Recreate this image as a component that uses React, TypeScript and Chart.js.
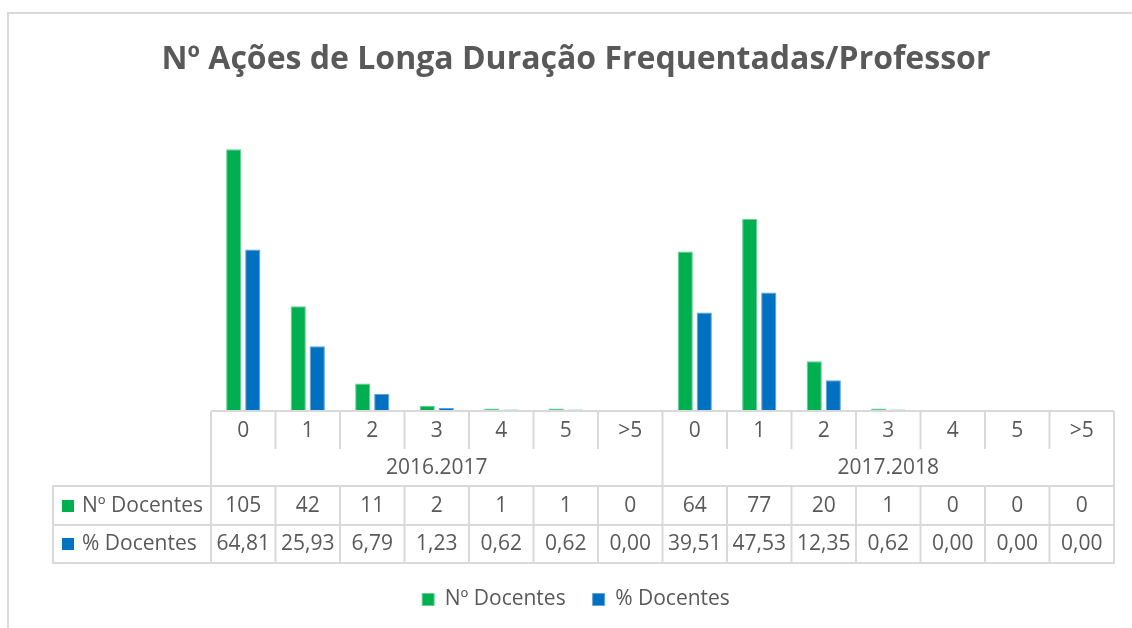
import React, { useEffect, useRef } from 'react';
import { Chart, registerables } from 'chart.js';

Chart.register(...registerables);

const categories = ['0', '1', '2', '3', '4', '5', '>5', '0', '1', '2', '3', '4', '5', '>5'];
const groups = ['2016.2017', '2017.2018'];
const groupSizes = [7, 7];
const nDocentes = [105, 42, 11, 2, 1, 1, 0, 64, 77, 20, 1, 0, 0, 0];
const pctDocentes = [64.81, 25.93, 6.79, 1.23, 0.62, 0.62, 0.0, 39.51, 47.53, 12.35, 0.62, 0.0, 0.0, 0.0];
const seriesNames = ['Nº Docentes', '% Docentes'];
const titleText = 'Nº Ações de Longa Duração Frequentadas/Professor';

const GREEN = '#00B050';
const BLUE = '#0070C0';
const TEXT = '#595959';
const GRID = '#D9D9D9';
const FONT = "'Open Sans', sans-serif";
const TABLE_FONT_SIZE = 21;

const fmtPct = (v: number) => v.toFixed(2).replace('.', ',');

const tablePlugin = {
  id: 'dataTable',
  beforeDraw(chart: any) {
    const ctx = chart.ctx;
    ctx.save();
    ctx.fillStyle = '#ffffff';
    ctx.fillRect(0, 0, chart.width, chart.height);
    ctx.strokeStyle = GRID;
    ctx.lineWidth = 2;
    ctx.beginPath();
    ctx.moveTo(8, chart.height + 5);
    ctx.lineTo(8, 13);
    ctx.lineTo(chart.width + 5, 13);
    ctx.stroke();
    ctx.restore();
  },
  afterDraw(chart: any) {
    const { ctx, chartArea } = chart;
    const xs = chart.scales.x;
    const n = categories.length;
    const left = chartArea.left;
    const right = chartArea.right;
    const w = (right - left) / n;
    const y0 = chartArea.bottom;
    const tableLeft = 53;
    const rowCat = y0 + 38;
    const rowGrp = y0 + 75;
    const row1 = y0 + 114;
    const row2 = y0 + 152;

    ctx.save();
    ctx.strokeStyle = GRID;
    ctx.lineWidth = 2;
    const line = (x1: number, y1: number, x2: number, y2: number) => {
      ctx.beginPath();
      ctx.moveTo(x1, y1);
      ctx.lineTo(x2, y2);
      ctx.stroke();
    };
    line(left, y0, right, y0);
    line(tableLeft - 1, rowGrp, right + 1, rowGrp);
    line(tableLeft - 1, row1, right + 1, row1);
    line(tableLeft - 1, row2, right + 1, row2);
    for (let i = 0; i <= n; i++) {
      const x = left + i * w;
      line(x, y0, x, rowCat);
      line(x, rowGrp, x, row2);
    }
    let acc = 0;
    const bounds = [0];
    groupSizes.forEach((s) => {
      acc += s;
      bounds.push(acc);
    });
    bounds.forEach((b) => {
      const x = left + b * w;
      line(x, rowCat, x, rowGrp);
    });
    line(tableLeft, rowGrp, tableLeft, row2);

    ctx.fillStyle = TEXT;
    ctx.font = `${TABLE_FONT_SIZE}px ${FONT}`;
    ctx.textAlign = 'center';
    ctx.textBaseline = 'middle';
    categories.forEach((c, i) => {
      const cx = xs.getPixelForValue(i);
      ctx.fillText(c, cx, y0 + 20);
      ctx.fillText(String(nDocentes[i]), cx, y0 + 95);
      ctx.fillText(fmtPct(pctDocentes[i]), cx, y0 + 133);
    });
    groups.forEach((g, gi) => {
      const gx = left + ((bounds[gi] + bounds[gi + 1]) / 2) * w;
      ctx.fillText(g, gx, y0 + 57);
    });
    ctx.textAlign = 'left';
    const headers = [
      { name: seriesNames[0], color: GREEN, y: y0 + 95 },
      { name: seriesNames[1], color: BLUE, y: y0 + 133 },
    ];
    headers.forEach((h) => {
      ctx.fillStyle = h.color;
      ctx.fillRect(tableLeft + 9, h.y - 6, 12, 12);
      ctx.fillStyle = TEXT;
      ctx.fillText(h.name, tableLeft + 29, h.y);
    });
    ctx.restore();
  },
};

export default function App() {
  const canvasRef = useRef<HTMLCanvasElement | null>(null);

  useEffect(() => {
    if (!canvasRef.current) return;
    const chart = new Chart(canvasRef.current, {
      type: 'bar',
      data: {
        labels: categories,
        datasets: [
          {
            label: seriesNames[0],
            data: nDocentes,
            backgroundColor: GREEN,
            borderColor: '#66d096',
            borderWidth: 1,
            barPercentage: 0.8,
            categoryPercentage: 0.59,
          },
          {
            label: seriesNames[1],
            data: pctDocentes,
            backgroundColor: BLUE,
            borderColor: '#5fa3d8',
            borderWidth: 1,
            barPercentage: 0.8,
            categoryPercentage: 0.59,
          },
        ],
      },
      options: {
        responsive: false,
        animation: false,
        layout: { padding: { left: 20, right: 0, top: 0, bottom: 8 } },
        scales: {
          x: {
            display: true,
            grid: { display: false },
            border: { display: false },
            ticks: { display: false },
            afterFit: (s: any) => {
              s.height = 151;
            },
          },
          y: {
            display: true,
            min: 0,
            max: 125,
            grid: { display: false },
            border: { display: false },
            ticks: { display: false },
            afterFit: (s: any) => {
              s.width = 191;
            },
          },
          y2: {
            display: true,
            position: 'right',
            grid: { display: false },
            border: { display: false },
            ticks: { display: false },
            afterFit: (s: any) => {
              s.width = 18;
            },
          },
        },
        plugins: {
          title: {
            display: true,
            text: titleText,
            color: TEXT,
            font: { family: FONT, size: 32, weight: 'bold' },
            padding: { top: 41, bottom: 20 },
          },
          legend: {
            position: 'bottom',
            labels: {
              boxWidth: 12,
              boxHeight: 12,
              padding: 27,
              color: TEXT,
              font: { family: FONT, size: TABLE_FONT_SIZE },
            },
          },
          tooltip: { enabled: false },
        },
      },
      plugins: [tablePlugin],
    } as any);
    return () => chart.destroy();
  }, []);

  return (
    <div style={{ position: 'absolute', left: 0, top: 0, width: 1132, height: 628, background: '#fff' }}>
      <canvas ref={canvasRef} width={1132} height={628} />
    </div>
  );
}
